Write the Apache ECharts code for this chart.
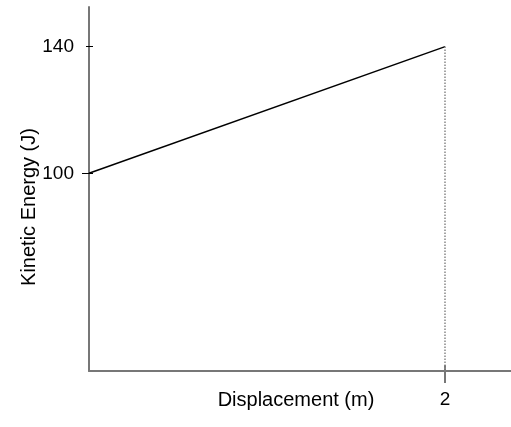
<!DOCTYPE html>
<html><head><meta charset="utf-8">
<script src="https://cdn.jsdelivr.net/npm/echarts@6/dist/echarts.min.js"></script>
<style>html,body{margin:0;padding:0;background:#fff}#c{width:511px;height:427px}</style>
</head><body><div id="c"></div>
<script>
var displacement = [0, 2];
var kineticEnergy = [100, 140];
var yTicks = [100, 140];
var xTicks = [2];
var xName = 'Displacement (m)';
var yName = 'Kinetic Energy (J)';

var yMin = 37.6, yMax = 152.5, xMin = 0, xMax = 2.37;
var font = 'Liberation Sans, Arial, sans-serif';
var chart = echarts.init(document.getElementById('c'));
var pts = displacement.map(function (x, i) { return [x, kineticEnergy[i]]; });
var last = pts[pts.length - 1];
function yAx(extra) {
  return Object.assign({
    type: 'value', min: yMin, max: yMax, position: 'left', splitLine: { show: false },
    axisLine: { show: false }, axisLabel: { show: false }, axisTick: { show: false }
  }, extra);
}
function xAx(extra) {
  return Object.assign({
    type: 'value', min: xMin, max: xMax, position: 'bottom', splitLine: { show: false },
    axisLine: { show: false }, axisLabel: { show: false }, axisTick: { show: false }
  }, extra);
}
chart.setOption({
  animation: false,
  grid: { left: 89, right: 0, top: 7, bottom: 56, outerBoundsMode: 'none', containLabel: false },
  xAxis: [
    xAx({
      axisLine: { show: true, onZero: false, lineStyle: { color: '#777', width: 2 } },
      axisTick: { show: true, customValues: xTicks, length: 12, lineStyle: { color: '#777', width: 2 } },
      axisLabel: { show: true, customValues: xTicks, margin: 19, color: '#000', fontSize: 19, fontFamily: font },
      name: xName, nameLocation: 'middle', nameGap: 19, nameMoveOverlap: false,
      nameTextStyle: { color: '#000', fontSize: 20, fontFamily: font, padding: [0, 8, 0, 0], verticalAlign: 'top' }
    }),
    xAx({ axisTick: { show: true, inside: true, customValues: xTicks, length: 6, lineStyle: { color: '#777', width: 2 } } })
  ],
  yAxis: [
    yAx({
      axisLine: { show: true, onZero: false, lineStyle: { color: '#777', width: 2 } },
      axisTick: { show: true, customValues: [140], length: 3, lineStyle: { color: '#000', width: 1 } },
      axisLabel: { show: true, customValues: yTicks, margin: 15, color: '#000', fontSize: 19, fontFamily: font },
      name: yName, nameLocation: 'middle', nameGap: 50, nameMoveOverlap: false,
      nameTextStyle: { color: '#000', fontSize: 20, fontFamily: font, padding: [0, 36, 0, 0] }
    }),
    yAx({ axisTick: { show: true, customValues: [100], length: 7, lineStyle: { color: '#000', width: 1 } } }),
    yAx({ axisTick: { show: true, inside: true, customValues: yTicks, length: 4, lineStyle: { color: '#000', width: 1 } } })
  ],
  series: [{
    type: 'line', data: pts, showSymbol: false, symbol: 'none',
    lineStyle: { color: '#000', width: 1.5 },
    markLine: {
      silent: true, symbol: 'none', label: { show: false },
      lineStyle: { type: 'dotted', color: '#888', width: 1.5 },
      data: [[{ coord: [last[0], last[1]] }, { coord: [last[0], yMin] }]]
    }
  }]
});
</script></body></html>
